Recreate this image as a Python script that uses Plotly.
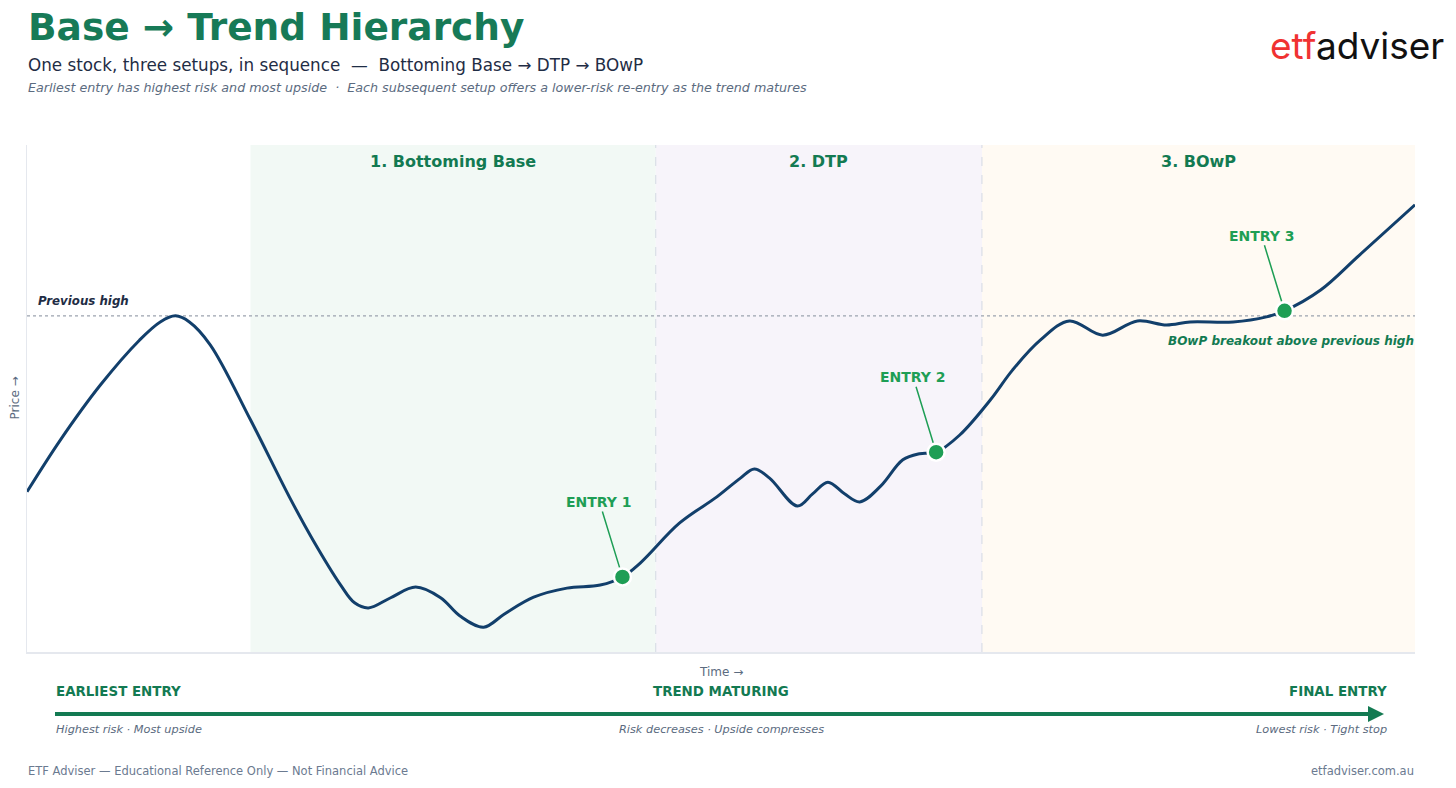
import plotly.graph_objects as go

# ---- data ----
time_x = [0.0, 2.4, 5.3, 8.1, 9.6, 10.7, 11.7, 13.2, 16.1, 18.9, 20.6, 22.6, 23.6, 24.6, 26.2, 28.0,
          29.8, 31.2, 32.9, 34.4, 36.5, 38.9, 41.3, 42.9, 44.2, 47.0, 49.7, 51.4, 52.4, 53.5, 55.5,
          56.6, 57.7, 58.9, 60.0, 61.5, 63.1, 64.3, 65.5, 67.2, 69.4, 71.0, 73.0, 75.1, 77.5, 80.0,
          82.1, 83.8, 86.9, 89.3, 90.6, 93.2, 96.0, 100.0]
price_y = [31.6, 41.8, 52.7, 61.5, 65.1, 66.3, 65.1, 60.6, 45.8, 30.6, 22.1, 13.2, 9.7, 8.7, 10.7, 12.8,
           10.7, 7.1, 4.9, 7.5, 10.8, 12.6, 13.2, 14.8, 17.6, 25.4, 30.6, 34.3, 36.1, 34.3, 28.8,
           31.2, 33.5, 31.2, 29.6, 32.7, 37.9, 39.1, 39.4, 42.8, 49.7, 55.6, 61.5, 65.3, 62.5, 65.3,
           64.5, 65.1, 65.1, 66.1, 67.3, 71.4, 78.3, 88.2]

entry_labels = ["ENTRY 1", "ENTRY 2", "ENTRY 3"]
entry_x = [42.9, 65.5, 90.6]
entry_y = [14.8, 39.4, 67.3]

previous_high = 66.3

zone_labels = ["1. Bottoming Base", "2. DTP", "3. BOwP"]
zone_start = [16.1, 45.3, 68.8]
zone_end = [45.3, 68.8, 100.0]
zone_colors = ["#f2f9f5", "#f7f4fa", "#fffaf3"]

stage_labels = ["EARLIEST ENTRY", "TREND MATURING", "FINAL ENTRY"]
stage_notes = ["Highest risk · Most upside", "Risk decreases · Upside compresses", "Lowest risk · Tight stop"]

FONT = "DejaVu Sans"
GREEN_DARK = "#137a52"
GREEN_ENTRY = "#1e9e55"
NAVY = "#123f6b"
GREY = "#5b6b80"

# plot area: x 27..1415, y 145..652 in page pixels
ppx = lambda px: (px - 27) / 1388
ppy = lambda py: (652 - py) / 507

fig = go.Figure()


def note(text, x, y, size, color, xanchor="left", **kw):
    fig.add_annotation(x=x, y=y, xref=kw.pop("xref", "paper"), yref="paper", xanchor=xanchor,
                       yanchor="middle", text=text, showarrow=False, borderpad=0,
                       font=dict(family=FONT, size=size, color=color), **kw)


# zones
for s, e, c in zip(zone_start, zone_end, zone_colors):
    fig.add_shape(type="rect", xref="x", yref="paper", x0=s, x1=e, y0=0, y1=1,
                  fillcolor=c, line_width=0, layer="below")
for b in zone_start[1:]:
    fig.add_shape(type="line", xref="x", yref="paper", x0=b, x1=b, y0=0, y1=1,
                  line=dict(color="#d3d9e3", width=1, dash="dash"), layer="below")
for lbl, s, e in zip(zone_labels, zone_start, zone_end):
    note(f"<b>{lbl}</b>", (s + e) / 2, ppy(161), 16, GREEN_DARK, xanchor="center", xref="x")

# previous high line
fig.add_shape(type="line", xref="paper", yref="y", x0=0, x1=1, y0=previous_high, y1=previous_high,
              line=dict(color="#9ca3af", width=1.2, dash="dot"), layer="below")
note("<b><i>Previous high</i></b>", ppx(37), ppy(301), 11.8, "#1f2d45")

# price curve
fig.add_trace(go.Scatter(x=time_x, y=price_y, mode="lines",
                         line=dict(color=NAVY, width=3, shape="spline", smoothing=1.0),
                         hoverinfo="skip", showlegend=False))

# entries
fig.add_trace(go.Scatter(x=entry_x, y=entry_y, mode="markers",
                         marker=dict(size=17, color=GREEN_ENTRY, line=dict(color="white", width=2.5)),
                         hoverinfo="skip", showlegend=False))
for lbl, ex, ey in zip(entry_labels, entry_x, entry_y):
    fig.add_annotation(x=ex, y=ey, xref="x", yref="y", text=f"<b>{lbl}</b>",
                       showarrow=True, arrowhead=0, arrowwidth=1.5, arrowcolor=GREEN_ENTRY,
                       ax=-23, ay=-75, standoff=10,
                       font=dict(family=FONT, size=14, color=GREEN_ENTRY))

note("<b><i>BOwP breakout above previous high</i></b>", 1, ppy(341), 12, GREEN_DARK, xanchor="right")

# axis titles
fig.add_annotation(x=ppx(14), y=0.5, xref="paper", yref="paper", xanchor="center", yanchor="middle",
                   text="Price →", textangle=-90, showarrow=False,
                   font=dict(family=FONT, size=12, color=GREY))
note("Time →", 0.5, ppy(672), 12, GREY, xanchor="center")

# bottom progression arrow
fig.add_shape(type="line", xref="paper", yref="paper", x0=ppx(55), x1=ppx(1372), y0=ppy(714), y1=ppy(714),
              line=dict(color=GREEN_DARK, width=4))
fig.add_shape(type="path", xref="paper", yref="paper",
              path=f"M {ppx(1368)} {ppy(706)} L {ppx(1384)} {ppy(714)} L {ppx(1368)} {ppy(722)} Z",
              fillcolor=GREEN_DARK, line_width=0)

pos = [(ppx(55), "left"), (0.5, "center"), (ppx(1388), "right")]
for (px_, anchor), lbl, nt in zip(pos, stage_labels, stage_notes):
    note(f"<b>{lbl}</b>", px_, ppy(691), 13.4, GREEN_DARK, xanchor=anchor)
    note(f"<i>{nt}</i>", px_, ppy(729), 11.3, GREY, xanchor=anchor)

# footer
note("ETF Adviser — Educational Reference Only — Not Financial Advice", 0, ppy(771), 11.5, "#6b7a90")
note("etfadviser.com.au", 1, ppy(771), 11.5, "#6b7a90", xanchor="right")

# titles
note("<b>Base → Trend Hierarchy</b>", 0, ppy(27), 37.5, "#177a57")
note("One stock, three setups, in sequence  —  Bottoming Base → DTP → BOwP", 0, ppy(65), 16.8, "#1f2d45")
note("<i>Earliest entry has highest risk and most upside  ·  Each subsequent setup offers a lower-risk re-entry as the trend matures</i>",
     0, ppy(87), 12.7, GREY)

# logo
fig.add_annotation(x=ppx(1445), y=ppy(45), xref="paper", yref="paper", xanchor="right", yanchor="middle",
                   text="<span style='color:#f03232'>etf</span><span style='color:#111111'>adviser</span>",
                   showarrow=False, borderpad=0, font=dict(family="Inter", size=37, color="#111111"))

fig.update_xaxes(range=[0, 100], showgrid=False, zeroline=False, showticklabels=False,
                 showline=True, linecolor="#e5e8ee", linewidth=1.5, ticks="")
fig.update_yaxes(range=[0, 100], showgrid=False, zeroline=False, showticklabels=False,
                 showline=True, linecolor="#e5e8ee", linewidth=1.5, ticks="")

fig.update_layout(width=1456, height=788, margin=dict(l=27, r=41, t=145, b=136),
                  paper_bgcolor="white", plot_bgcolor="white", showlegend=False,
                  font=dict(family=FONT), hovermode=False)

# remove the default page margin so the figure fills the window exactly
fig.write_html("out.html", config={"displayModeBar": False, "staticPlot": True},
               post_script="document.body.style.margin='0';document.body.style.overflow='hidden';")
